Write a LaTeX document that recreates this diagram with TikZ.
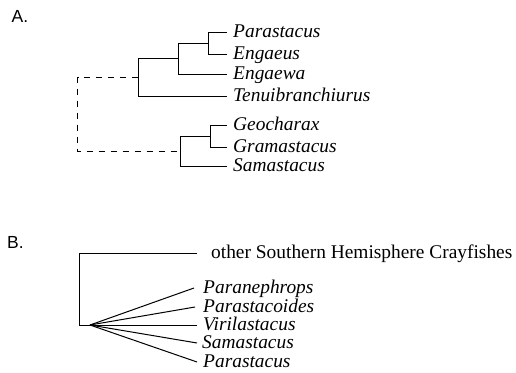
\documentclass[tikz,border=0pt]{standalone}
\usepackage{fontspec}
\setmainfont{Liberation Serif}
\newfontfamily\panelfont{Liberation Sans}
\begin{document}
\begin{tikzpicture}[x=1pt,y=-1pt,
  branch/.style={line width=1pt,line join=miter},
  dashbranch/.style={branch,dash pattern=on 6pt off 6pt},
  leaf/.style={anchor=base west,inner sep=0pt,font=\fontsize{19.4}{19.4}\selectfont\itshape},
  plain/.style={anchor=base west,inner sep=0pt,font=\fontsize{19.4}{19.4}\selectfont},
  panel/.style={anchor=base west,inner sep=0pt,font=\panelfont\fontsize{17.5}{17.5}\selectfont}]
\useasboundingbox (0,0) rectangle (516,372);
\fill[white] (0,0) rectangle (516,372);

% ---------- panel A ----------
\node[panel] (labA) at (11.5,22.8) {A.};

% leaf tips
\coordinate (tPar)  at (227,32);
\coordinate (tEng)  at (227,54);
\coordinate (tEngw) at (227,74);
\coordinate (tTen)  at (227,96);
\coordinate (tGeo)  at (227,125);
\coordinate (tGra)  at (227,147);
\coordinate (tSam)  at (227,166);

\node[leaf] (lPar)  at (233,37.5)  {Parastacus};
\node[leaf] (lEng)  at (233,59.5)  {Engaeus};
\node[leaf] (lEngw) at (233,79.5)  {Engaewa};
\node[leaf] (lTen)  at (233,101.5) {Tenuibranchiurus};
\node[leaf] (lGeo)  at (233,130.5) {Geocharax};
\node[leaf] (lGra)  at (233,152.5) {Gramastacus};
\node[leaf] (lSam)  at (233,171.5) {Samastacus};

% internal nodes
\coordinate (a1) at (208,43);
\coordinate (a2) at (178,58);
\coordinate (a3) at (138,77);
\coordinate (b1) at (210,136);
\coordinate (b2) at (180,151.5);
\coordinate (r)  at (77.5,77);

\draw[branch] (a1) |- (tPar);
\draw[branch] (a1) |- (tEng);
\draw[branch] (a2) |- (a1);
\draw[branch] (a2) |- (tEngw);
\draw[branch] (a3) |- (a2);
\draw[branch] (a3) |- (tTen);

\draw[branch] (b1) |- (tGeo);
\draw[branch] (b1) |- (tGra);
\draw[branch] (b2) |- (b1);
\draw[branch] (b2) |- (tSam);

\draw[dashbranch] (a3) -- (r) |- (b2);

% ---------- panel B ----------
\node[panel] (labB) at (7,248.5) {B.};

\coordinate (rootB) at (79,253);
\coordinate (fan)   at (90,325);
\coordinate (tOth)  at (197,253);
\coordinate (uPan)  at (194,288);
\coordinate (uPas)  at (195,307);
\coordinate (uVir)  at (197,325);
\coordinate (uSam)  at (197,343);
\coordinate (uPar)  at (197,362);

\node[plain] (lOth) at (211,258.5) {other Southern Hemisphere Crayfishes};
\node[leaf] (mPan) at (203,293.5) {Paranephrops};
\node[leaf] (mPas) at (203,312.5) {Parastacoides};
\node[leaf] (mVir) at (203,330.5) {Virilastacus};
\node[leaf] (mSam) at (202,348.5) {Samastacus};
\node[leaf] (mPar) at (203,367.5) {Parastacus};

\draw[branch] (tOth) -- (rootB) |- (fan);
\draw[branch] (fan) -- (uPan);
\draw[branch] (fan) -- (uPas);
\draw[branch] (fan) -- (uVir);
\draw[branch] (fan) -- (uSam);
\draw[branch] (fan) -- (uPar);
\end{tikzpicture}
\end{document}
